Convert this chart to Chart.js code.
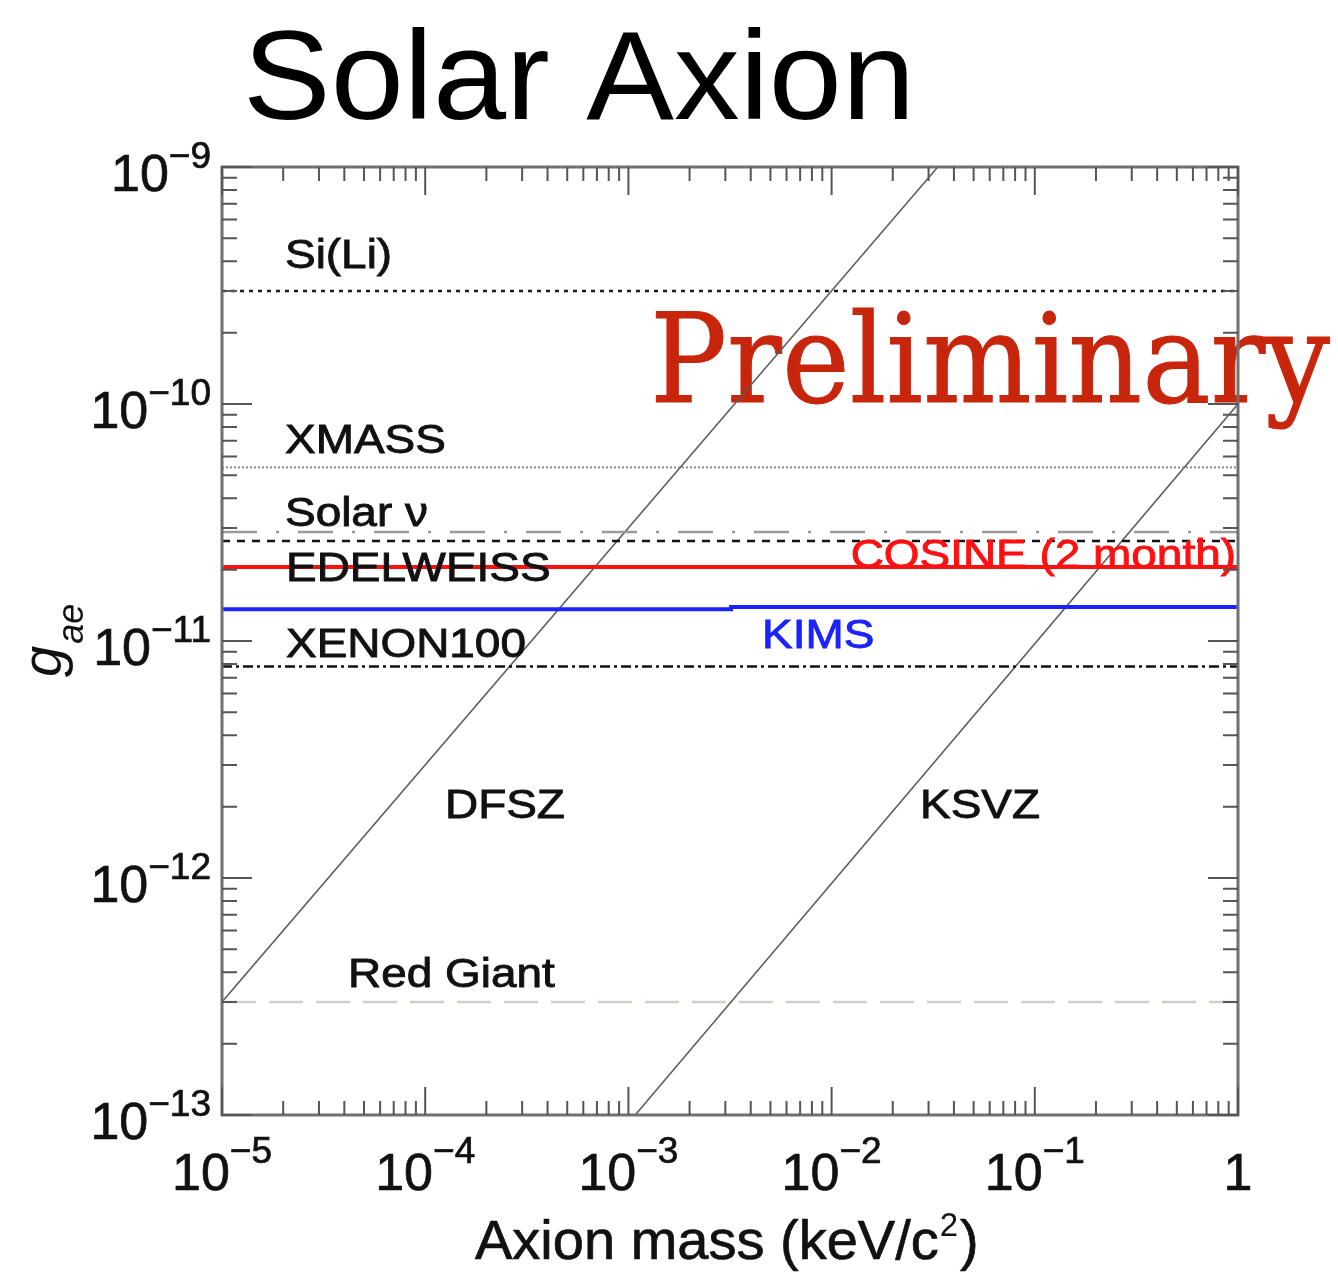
<!DOCTYPE html>
<html>
<head>
<meta charset="utf-8">
<title>Solar Axion</title>
<script src="https://cdn.jsdelivr.net/npm/chart.js@4.4.1/dist/chart.umd.min.js"></script>
<style>
  html, body { margin:0; padding:0; background:#fff; }
  #wrap { width:1338px; height:1272px; }
</style>
</head>
<body>
<div id="wrap"><canvas id="chart" width="1338" height="1272"></canvas></div>
<script>
// ---- values ----
const xTickValues = [1e-5, 1e-4, 1e-3, 1e-2, 1e-1, 1];
const xTickExps   = ['−5', '−4', '−3', '−2', '−1', null];   // null -> plain "1"
const yTickValues = [1e-13, 1e-12, 1e-11, 1e-10, 1e-9];
const yTickExps   = ['−13', '−12', '−11', '−10', '−9'];
const minorSteps  = [2, 3, 4, 5, 6, 7, 8, 9];

const massRange   = [1e-5, 1];
const limitNames  = ['Si(Li)', 'XMASS', 'Solar ν', 'EDELWEISS', 'COSINE (2 month)', 'XENON100', 'Red Giant'];
const limitValues = [3.0e-10, 5.4e-11, 2.88e-11, 2.64e-11, 2.05e-11, 7.8e-12, 3.0e-13];

const kimsMass = [1e-5, 3.2e-3, 3.2e-3, 1];
const kimsG    = [1.36e-11, 1.36e-11, 1.39e-11, 1.39e-11];

const dfszMass = [1e-5, 3.33e-2];
const dfszG    = [3.0e-13, 1e-9];
const ksvzMass = [1.08e-3, 1];
const ksvzG    = [1e-13, 1e-10];

// ---- styles ----
const SANS = "'Liberation Sans', Arial, Helvetica, sans-serif";
const limitStyles = {
  'Si(Li)':           { color:'#1a1a1a', width:2.5, dash:[4,5] },
  'XMASS':            { color:'#8a8a8a', width:2,   dash:[2,2] },
  'Solar ν':          { color:'#9a9a9a', width:2.5, dash:[35,19,3,19] },
  'EDELWEISS':        { color:'#111111', width:2.5, dash:[8,7] },
  'COSINE (2 month)': { color:'#ff1010', width:4,   dash:[] },
  'XENON100':         { color:'#111111', width:2.5, dash:[10,4,3,4] },
  'Red Giant':        { color:'#d2cec6', width:2.5, dash:[34,13] },
};

function pts(xs, ys){ return xs.map((x,i)=>({ x, y: ys[i] })); }

const datasets = [];
limitNames.forEach((name, i)=>{
  const st = limitStyles[name];
  datasets.push({
    label: name,
    data: pts(massRange, [limitValues[i], limitValues[i]]),
    borderColor: st.color, borderWidth: st.width, borderDash: st.dash,
  });
});
datasets.push({ label:'KIMS', data: pts(kimsMass, kimsG), borderColor:'#1a22ff', borderWidth:4 });
datasets.push({ label:'DFSZ', data: pts(dfszMass, dfszG), borderColor:'#5a5a5a', borderWidth:1.5 });
datasets.push({ label:'KSVZ', data: pts(ksvzMass, ksvzG), borderColor:'#5a5a5a', borderWidth:1.5 });

// text drawn with a horizontal stretch (the original is a bit wide), slightly heavier
function txt(ctx, s, x, y, font, color, sx, align, heavy){
  ctx.save();
  ctx.font = font; ctx.fillStyle = color; ctx.strokeStyle = color;
  ctx.textBaseline = 'alphabetic'; ctx.textAlign = align || 'left';
  ctx.translate(x, y); ctx.scale(sx || 1, 1);
  ctx.fillText(s, 0, 0);
  if (heavy){ ctx.lineWidth = heavy; ctx.strokeText(s, 0, 0); }
  ctx.restore();
}
function fitTxt(ctx, s, x, y, font, color, targetW, heavy){
  ctx.save(); ctx.font = font;
  const w = ctx.measureText(s).width;
  ctx.restore();
  txt(ctx, s, x, y, font, color, targetW / w, 'left', heavy);
}

// power-of-ten label: "10" + raised exponent
function powLabel(ctx, exp, anchorX, baseY, mode){
  const fb = '52px ' + SANS, fe = '37px ' + SANS;
  ctx.save();
  ctx.fillStyle = '#111'; ctx.strokeStyle = '#111'; ctx.lineWidth = 0.7;
  ctx.textBaseline = 'alphabetic'; ctx.textAlign = 'left';
  if (exp === null){
    ctx.font = fb;
    const w = ctx.measureText('1').width;
    ctx.fillText('1', anchorX - w/2, baseY);
    ctx.strokeText('1', anchorX - w/2, baseY);
    ctx.restore(); return;
  }
  ctx.font = fb; const wb = ctx.measureText('10').width;
  ctx.font = fe; const we = ctx.measureText(exp).width;
  const x0 = mode === 'right' ? anchorX - wb - we : anchorX - (wb + we)/2;
  const raise = mode === 'right' ? 23 : 27;
  ctx.font = fb; ctx.fillText('10', x0, baseY); ctx.strokeText('10', x0, baseY);
  ctx.font = fe; ctx.fillText(exp, x0 + wb, baseY - raise); ctx.strokeText(exp, x0 + wb, baseY - raise);
  ctx.restore();
}

const underlay = {
  id: 'underlay',
  beforeDatasetsDraw(chart){
    const ctx = chart.ctx;
    fitTxt(ctx, 'Preliminary', 650, 402, "123px 'DejaVu Serif', 'Liberation Serif', serif", '#c8260c', 680, 1);
  }
};

const overlay = {
  id: 'overlay',
  afterDatasetsDraw(chart){
    const ctx = chart.ctx, a = chart.chartArea;
    const xs = chart.scales.x, ys = chart.scales.y;
    const AF = '41px ' + SANS, SX = 1.12, HV = 0.9;

    // in-plot labels
    txt(ctx, 'Si(Li)',    285, 268, AF, '#111', SX, 'left', HV);
    txt(ctx, 'XMASS',     285, 453, AF, '#111', SX, 'left', HV);
    txt(ctx, 'Solar ν',   285, 526, AF, '#111', SX, 'left', HV);
    txt(ctx, 'EDELWEISS', 286, 581, AF, '#111', SX, 'left', HV);
    txt(ctx, 'XENON100',  286, 657, AF, '#111', SX, 'left', HV);
    txt(ctx, 'DFSZ',      445, 818, AF, '#111', SX, 'left', HV);
    txt(ctx, 'KSVZ',      920, 818, AF, '#111', SX, 'left', HV);
    txt(ctx, 'Red Giant', 348, 987, AF, '#111', SX, 'left', HV);
    txt(ctx, 'COSINE (2 month)', 1236, 568, AF, '#ff1010', SX, 'right', HV);
    txt(ctx, 'KIMS',      762, 648, AF, '#1a22ff', SX, 'left', HV);

    // frame
    ctx.save();
    ctx.strokeStyle = '#707070';
    ctx.lineWidth = 3;
    ctx.strokeRect(a.left, a.top, a.right - a.left, a.bottom - a.top);

    // ticks, all four sides, pointing in
    ctx.lineWidth = 2;
    ctx.strokeStyle = '#555555';
    ctx.beginPath();
    xTickValues.forEach((d, i)=>{
      const px = xs.getPixelForValue(d);
      ctx.moveTo(px, a.bottom); ctx.lineTo(px, a.bottom - 28);
      ctx.moveTo(px, a.top);    ctx.lineTo(px, a.top + 28);
      if (i === xTickValues.length - 1) return;
      minorSteps.forEach(m=>{
        const p = xs.getPixelForValue(d * m);
        ctx.moveTo(p, a.bottom); ctx.lineTo(p, a.bottom - 14);
        ctx.moveTo(p, a.top);    ctx.lineTo(p, a.top + 14);
      });
    });
    yTickValues.forEach((d, i)=>{
      const py = ys.getPixelForValue(d);
      ctx.moveTo(a.left, py);  ctx.lineTo(a.left + 30, py);
      ctx.moveTo(a.right, py); ctx.lineTo(a.right - 30, py);
      if (i === yTickValues.length - 1) return;
      minorSteps.forEach(m=>{
        const p = ys.getPixelForValue(d * m);
        ctx.moveTo(a.left, p);  ctx.lineTo(a.left + 15, p);
        ctx.moveTo(a.right, p); ctx.lineTo(a.right - 15, p);
      });
    });
    ctx.stroke();
    ctx.restore();

    // tick labels
    xTickValues.forEach((d, i)=> powLabel(ctx, xTickExps[i], xs.getPixelForValue(d), a.bottom + 75, 'center'));
    yTickValues.forEach((d, i)=> powLabel(ctx, yTickExps[i], 211, ys.getPixelForValue(d) + 24, 'right'));

    // x title
    ctx.save();
    ctx.fillStyle = '#111'; ctx.strokeStyle = '#111'; ctx.lineWidth = 0.7;
    ctx.textBaseline = 'alphabetic';
    ctx.font = '56px ' + SANS;
    const t1 = 'Axion mass (keV/c';
    const w1 = ctx.measureText(t1).width;
    const x0 = 475, by = 1259;
    ctx.fillText(t1, x0, by); ctx.strokeText(t1, x0, by);
    ctx.font = '33px ' + SANS;
    const w2 = ctx.measureText('2').width;
    ctx.fillText('2', x0 + w1 + 1, by - 23);
    ctx.font = '56px ' + SANS;
    ctx.fillText(')', x0 + w1 + w2 + 3, by); ctx.strokeText(')', x0 + w1 + w2 + 3, by);
    ctx.restore();

    // y title g_ae (rotated)
    ctx.save();
    ctx.fillStyle = '#111';
    ctx.translate(61, 677);
    ctx.rotate(-Math.PI / 2);
    ctx.font = 'italic 56px ' + SANS;
    const gw = ctx.measureText('g').width;
    ctx.fillText('g', 0, 0);
    ctx.font = 'italic 36px ' + SANS;
    ctx.fillText('ae', gw + 2, 22);
    ctx.restore();

    // title
    fitTxt(ctx, 'Solar Axion', 243, 119, '126px ' + SANS, '#000', 672);
  }
};

new Chart(document.getElementById('chart').getContext('2d'), {
  type: 'line',
  data: { datasets },
  options: {
    responsive: false,
    animation: false,
    events: [],
    layout: { padding: { left: 222, right: 100, top: 167, bottom: 157 } },
    elements: { point: { radius: 0 }, line: { tension: 0, fill: false } },
    plugins: { legend: { display: false }, tooltip: { enabled: false } },
    scales: {
      x: { type: 'logarithmic', min: massRange[0], max: massRange[1], display: false },
      y: { type: 'logarithmic', min: 1e-13, max: 1e-9, display: false }
    }
  },
  plugins: [underlay, overlay]
});
</script>
</body>
</html>
